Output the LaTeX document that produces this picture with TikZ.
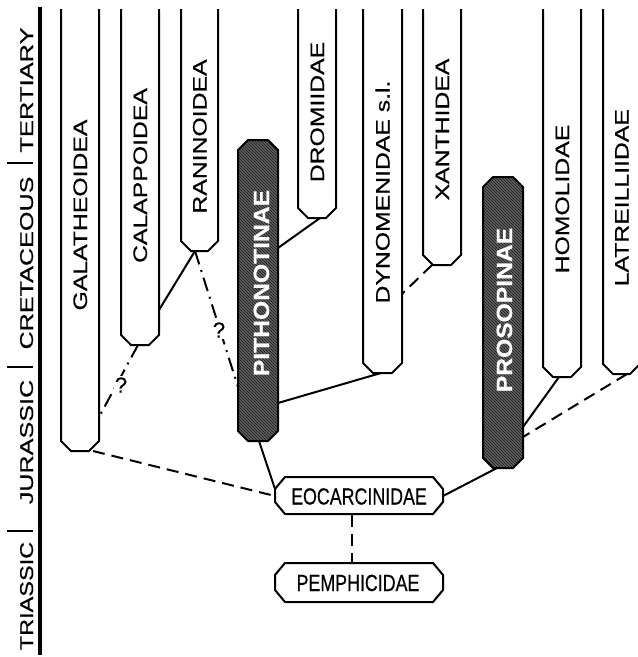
\documentclass[tikz,border=0pt]{standalone}
\usepackage{fontspec}
\setmainfont{Liberation Sans}[FakeBold=0.6]
\newfontfamily\plainfont{Liberation Sans}[FakeBold=0.5]
\usetikzlibrary{patterns}
\newcommand\vstr[1]{\scalebox{1.27}[1]{#1}}
\newcommand\dstr[1]{\scalebox{1.12}[1]{#1}}
\newcommand\hstr[1]{\scalebox{0.765}[1]{#1}}
\newcommand\openbox[4]{\draw[boxline] (#1,#4) -- (#1,#3-10) -- (#1+10,#3) -- (#2-10,#3) -- (#2,#3-10) -- (#2,#4);}
\newcommand\darkbox[4]{\draw[boxline,darkfill] (#1,#3+10) -- (#1+10,#3) -- (#2-10,#3) -- (#2,#3+10) -- (#2,#4-10) -- (#2-10,#4) -- (#1+10,#4) -- (#1,#4-10) -- cycle;}
\begin{document}
\begin{tikzpicture}[x=1pt,y=-1pt,
  boxline/.style={line width=2pt, line join=round},
  darkfill/.style={preaction={fill=black!62}, pattern=north west lines, pattern color=black!90},
  vlab/.style={rotate=90, anchor=base, inner sep=0pt, font=\plainfont\fontsize{19.5}{20}\selectfont},
  plab/.style={rotate=90, anchor=base, inner sep=0pt, font=\plainfont\fontsize{18.5}{19}\selectfont},
  dlab/.style={rotate=90, anchor=base, inner sep=0pt, text=white, font=\bfseries\fontsize{22}{23}\selectfont},
  hlab/.style={anchor=base, inner sep=0pt, font=\plainfont\fontsize{23.3}{24}\selectfont},
  qmark/.style={fill=white, inner sep=1pt, font=\plainfont\fontsize{22}{23}\selectfont},
  solidc/.style={line width=2pt},
  dashc/.style={line width=2pt, dash pattern=on 12pt off 7pt},
  qc/.style={line width=2pt, dash pattern=on 14pt off 6pt on 2pt off 6pt}]
\useasboundingbox (0,0) rectangle (638,657);

% time axis
\draw[line width=4pt] (40,7) -- (40,655);
\foreach \yy in {163,367,531} \draw[line width=1.8pt] (7,\yy) -- (33,\yy);
\node[plab] (tert) at (33,90) {\scalebox{1.38}[1]{TERTIARY}};
\node[plab] (cret) at (33,263) {\scalebox{1.36}[1]{CRETACEOUS}};
\node[plab] (jura) at (33,442) {\scalebox{1.36}[1]{JURASSIC}};
\node[plab] (tria) at (33,596) {\scalebox{1.27}[1]{TRIASSIC}};

% open-topped boxes
\openbox{61}{99}{451}{9}
\openbox{121}{159}{345}{9}
\openbox{181}{218}{251}{9}
\openbox{298}{336}{218}{9}
\openbox{363}{402}{373}{9}
\openbox{423}{461}{265}{9}
\openbox{543}{581}{377}{9}
\openbox{603}{640}{374}{9}
\node[vlab] (gal) at (87,215) {\vstr{GALATHEOIDEA}};
\node[vlab] (cal) at (147,175.5) {\vstr{CALAPPOIDEA}};
\node[vlab] (ran) at (206.5,136.5) {\vstr{RANINOIDEA}};
\node[vlab] (dro) at (324,112) {\vstr{DROMIIDAE}};
\node[vlab] (dyn) at (389.5,192) {\vstr{DYNOMENIDAE s.l.}};
\node[vlab] (xan) at (449,129.5) {\vstr{XANTHIDEA}};
\node[vlab] (hom) at (569,199) {\vstr{HOMOLIDAE}};
\node[vlab] (lat) at (628.5,197.7) {\vstr{LATREILLIIDAE}};

% dark boxes
\darkbox{238}{278}{140}{441}
\darkbox{483}{523}{177}{468}
\node[dlab] (pith) at (269,283) {\dstr{PITHONOTINAE}};
\node[dlab] (pros) at (512,310) {\dstr{PROSOPINAE}};

% horizontal boxes
\draw[boxline] (275,489) -- (285,477) -- (433,477) -- (443,489) -- (443,502) -- (433,514) -- (285,514) -- (275,502) -- cycle;
\draw[boxline] (275,575) -- (285,563) -- (433,563) -- (443,575) -- (443,590) -- (433,602) -- (285,602) -- (275,590) -- cycle;
\node[hlab] (eoc) at (359,504.5) {\hstr{EOCARCINIDAE}};
\node[hlab] (pem) at (358,591) {\hstr{PEMPHICIDAE}};

% connector end points
\coordinate (GALb) at (93,451);
\coordinate (GALr) at (99,417);
\coordinate (CALb) at (138,345);
\coordinate (CALr) at (159,310);
\coordinate (RANb) at (195,251);
\coordinate (DROb) at (320,218);
\coordinate (DYNb) at (381,373);
\coordinate (DYNr) at (402,294);
\coordinate (XANb) at (432,265);
\coordinate (HOMb) at (559,377);
\coordinate (LATb) at (627,374);
\coordinate (PITHl) at (238,387);
\coordinate (PITHr1) at (278,248);
\coordinate (PITHr2) at (278,403);
\coordinate (PITHb) at (259,441);
\coordinate (PROSr1) at (523,427);
\coordinate (PROSr2) at (523,437);
\coordinate (PROSb) at (497,468);
\coordinate (EOCl1) at (275,489);
\coordinate (EOCl2) at (275,496);
\coordinate (EOCr) at (443,496);
\coordinate (EOCb) at (352,515);
\coordinate (PEMt) at (352,563);

% connectors
\draw[solidc] (CALr) -- (RANb);
\draw[solidc] (PITHr1) -- (DROb);
\draw[solidc] (PITHr2) -- (DYNb);
\draw[solidc] (PITHb) -- (EOCl1);
\draw[solidc] (EOCr) -- (PROSb);
\draw[solidc] (PROSr1) -- (HOMb);
\draw[dashc] (GALb) -- (EOCl2);
\draw[dashc] (XANb) -- (DYNr);
\draw[dashc] (LATb) -- (PROSr2);
\draw[dashc] (EOCb) -- (PEMt);
\draw[qc] (CALb) -- (GALr);
\draw[qc] (RANb) -- (PITHl);
\node[qmark] (q1) at (121,385) {?};
\node[qmark] (q2) at (219,330) {?};
\end{tikzpicture}
\end{document}
